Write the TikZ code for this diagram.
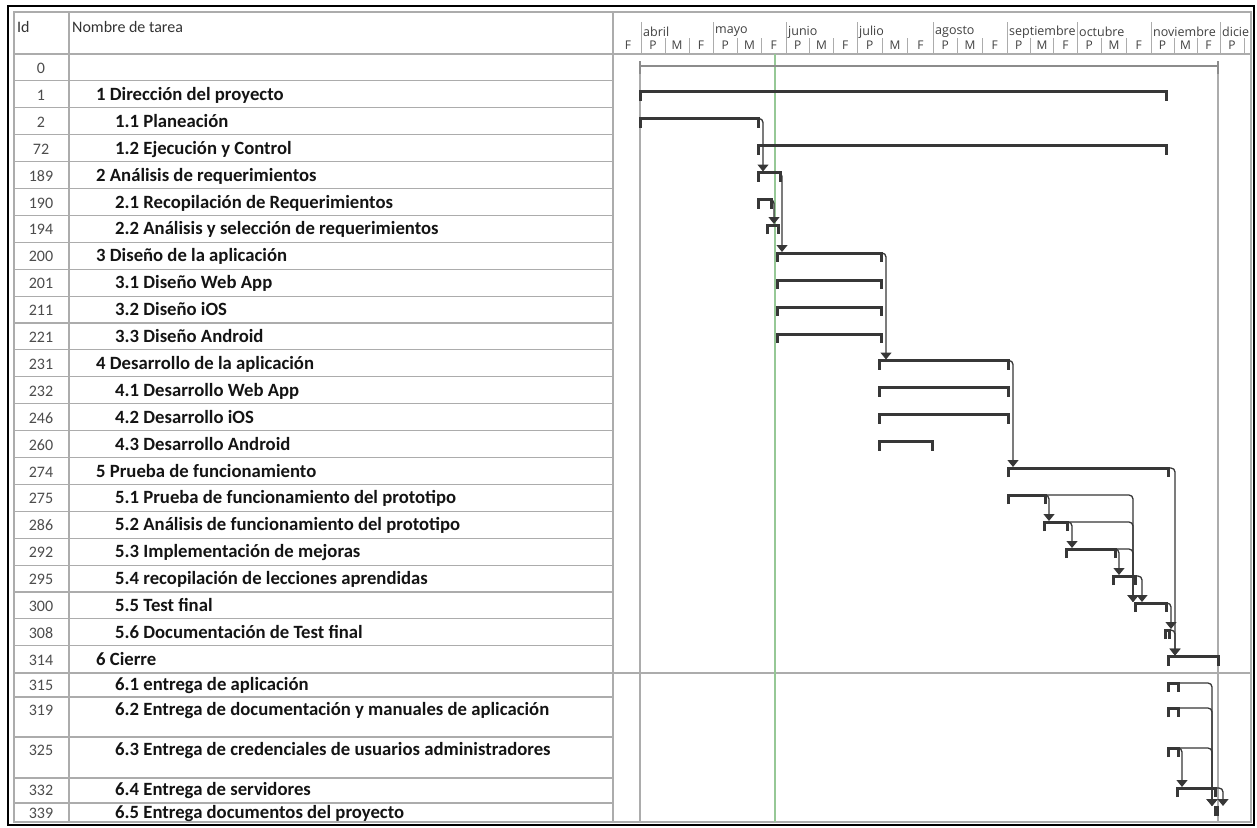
\documentclass[tikz,border=0pt]{standalone}
\usepackage{fontspec}
\setmainfont{Carlito}
\newfontfamily\timefont{Open Sans}
\usepackage{tikz}
\usetikzlibrary{arrows.meta}

\definecolor{barcol}{RGB}{55,55,55}
\definecolor{gridcol}{RGB}{172,172,172}
\definecolor{todaycol}{RGB}{150,200,150}

\tikzstyle{idcell} = [inner sep=0pt, text height=13pt, text depth=4pt, font=\fontsize{16}{16}\selectfont, text=black!70]
\tikzstyle{task} = [anchor=west, inner sep=0pt, text height=13pt, text depth=4pt, font=\fontsize{18.7}{19}\selectfont\bfseries, text=black!92]
\tikzstyle{headtext} = [anchor=west, inner sep=0pt, font=\fontsize{16}{16}\selectfont, text=black!80]
\tikzstyle{month} = [anchor=west, inner sep=0pt, font=\timefont\fontsize{12.5}{13}\selectfont, text=black!75]
\tikzstyle{third} = [inner sep=0pt, font=\timefont\fontsize{12}{13}\selectfont, text=black!75]
\tikzstyle{gridline} = [draw=gridcol, line width=1.1pt]
\tikzstyle{scaleline} = [draw=gridcol, line width=0.9pt]
\tikzstyle{taskbar} = [draw=barcol, line width=3pt, line join=miter]
\tikzstyle{projbar} = [draw=black!45, line width=1.8pt]
\tikzstyle{deplink} = [draw=barcol, line width=1.3pt, rounded corners=4pt, shorten >=1pt, ->, >={Triangle[width=11pt,length=7pt]}]

\begin{document}
\begin{tikzpicture}[x=1pt, y=-1pt, node distance=26.9pt]

\useasboundingbox (0,0) rectangle (1257,827);
\fill[white] (0,0) rectangle (1257,827);

% frame and grid of the table
\draw[line width=1.6pt] (8,6) rectangle (1254,825);
\draw[gridline] (14,12) rectangle (1251,822);
\draw[gridline] (69,12) -- (69,822);
\draw[gridline] (613,12) -- (613,822);
\draw[gridline] (14,54) -- (1251,54);
\draw[gridline, line width=1.6pt] (14,673) -- (1251,673);
\foreach \k in {1,...,22}
    \draw[gridline] (14,54+26.9*\k) -- (613,54+26.9*\k);
\foreach \yy in {697,737,778,803}
    \draw[gridline] (14,\yy) -- (613,\yy);

% header
\node[headtext] (hid) at (17,27) {Id};
\node[headtext] (hname) at (72,27) {Nombre de tarea};

% timescale
\node[third] (fmar) at (628,45) {F};
\foreach \a/\b/\m in {641/713/abril, 713/786/mayo, 786/857/junio, 857/933/julio, 933/1007/agosto, 1007/1077/septiembre, 1077/1151/octubre, 1151/1220/noviembre}{
    \draw[scaleline] (\a,22) -- (\a,54);
    \draw[scaleline] ({\a+(\b-\a)/3},38) -- ({\a+(\b-\a)/3},54);
    \draw[scaleline] ({\a+2*(\b-\a)/3},38) -- ({\a+2*(\b-\a)/3},54);
    \node[month] (m\a) at (\a+2,32) {\m};
    \node[third] (p\a) at ({\a+(\b-\a)/6},45) {P};
    \node[third] (mi\a) at ({\a+(\b-\a)/2},45) {M};
    \node[third] (f\a) at ({\a+5*(\b-\a)/6},45) {F};
}
\draw[scaleline] (1220,22) -- (1220,54);
\draw[scaleline] (1244,38) -- (1244,54);
\node[month] (mdic) at (1222,32) {dicie};
\node[third] (pdic) at (1232,45) {P};

% chart lines
\draw[gridline] (640,61) -- (640,822);
\draw[draw=todaycol, line width=1.2pt] (775,54) -- (775,822);
\draw[gridline] (1218,61) -- (1218,822);

% ids
\node[idcell] (id0) at (41,69) {0};
\node[idcell, below of=id0] (id1) {1};
\node[idcell, below of=id1] (id2) {2};
\node[idcell, below of=id2] (id72) {72};
\node[idcell, below of=id72] (id189) {189};
\node[idcell, below of=id189] (id190) {190};
\node[idcell, below of=id190] (id194) {194};
\node[idcell, below of=id194] (id200) {200};
\node[idcell, below of=id200] (id201) {201};
\node[idcell, below of=id201] (id211) {211};
\node[idcell, below of=id211] (id221) {221};
\node[idcell, below of=id221] (id231) {231};
\node[idcell, below of=id231] (id232) {232};
\node[idcell, below of=id232] (id246) {246};
\node[idcell, below of=id246] (id260) {260};
\node[idcell, below of=id260] (id274) {274};
\node[idcell, below of=id274] (id275) {275};
\node[idcell, below of=id275] (id286) {286};
\node[idcell, below of=id286] (id292) {292};
\node[idcell, below of=id292] (id295) {295};
\node[idcell, below of=id295] (id300) {300};
\node[idcell, below of=id300] (id308) {308};
\node[idcell, below of=id308] (id314) {314};
\node[idcell] (id315) at (41,686) {315};
\node[idcell] (id319) at (41,711) {319};
\node[idcell] (id325) at (41,751) {325};
\node[idcell] (id332) at (41,791) {332};
\node[idcell] (id339) at (41,814) {339};

% task names
\coordinate (lvA) at (96,0);
\coordinate (lvB) at (115,0);
\node[task] (t1) at (id1 -| lvA) {1 Dirección del proyecto};
\node[task] (t2) at (id2 -| lvB) {1.1 Planeación};
\node[task] (t72) at (id72 -| lvB) {1.2 Ejecución y Control};
\node[task] (t189) at (id189 -| lvA) {2 Análisis de requerimientos};
\node[task] (t190) at (id190 -| lvB) {2.1 Recopilación de Requerimientos};
\node[task] (t194) at (id194 -| lvB) {2.2 Análisis y selección de requerimientos};
\node[task] (t200) at (id200 -| lvA) {3 Diseño de la aplicación};
\node[task] (t201) at (id201 -| lvB) {3.1 Diseño Web App};
\node[task] (t211) at (id211 -| lvB) {3.2 Diseño iOS};
\node[task] (t221) at (id221 -| lvB) {3.3 Diseño Android};
\node[task] (t231) at (id231 -| lvA) {4 Desarrollo de la aplicación};
\node[task] (t232) at (id232 -| lvB) {4.1 Desarrollo Web App};
\node[task] (t246) at (id246 -| lvB) {4.2 Desarrollo iOS};
\node[task] (t260) at (id260 -| lvB) {4.3 Desarrollo Android};
\node[task] (t274) at (id274 -| lvA) {5 Prueba de funcionamiento};
\node[task] (t275) at (id275 -| lvB) {5.1 Prueba de funcionamiento del prototipo};
\node[task] (t286) at (id286 -| lvB) {5.2 Análisis de funcionamiento del prototipo};
\node[task] (t292) at (id292 -| lvB) {5.3 Implementación de mejoras};
\node[task] (t295) at (id295 -| lvB) {5.4 recopilación de lecciones aprendidas};
\node[task] (t300) at (id300 -| lvB) {5.5 Test final};
\node[task] (t308) at (id308 -| lvB) {5.6 Documentación de Test final};
\node[task] (t314) at (id314 -| lvA) {6 Cierre};
\node[task] (t315) at (id315 -| lvB) {6.1 entrega de aplicación};
\node[task] (t319) at (id319 -| lvB) {6.2 Entrega de documentación y manuales de aplicación};
\node[task] (t325) at (id325 -| lvB) {6.3 Entrega de credenciales de usuarios administradores};
\node[task] (t332) at (id332 -| lvB) {6.4 Entrega de servidores};
\node[task] (t339) at (id339 -| lvB) {6.5 Entrega documentos del proyecto};

% bars
\coordinate (s0) at (640,66);
\coordinate (e0) at (1218,66);
\draw[projbar] (s0) -- (e0);
\draw[projbar] (640,61) -- (640,74) (1218,61) -- (1218,74);
\foreach \n/\y/\a/\b in {1/91.5/640/1166, 2/118.5/640/758, 72/145.5/758/1166,
    189/172.5/758/780, 190/199.5/758/771, 194/225/767/778,
    200/253/777/881, 201/280/777/881, 211/307/777/881, 221/334/777/881,
    231/360.5/879/1008, 232/387.5/879/1008, 246/414.5/879/1008, 260/441.5/879/932,
    274/468/1008/1168, 275/495/1008/1045, 286/522/1044/1067, 292/549/1066/1115,
    295/576/1113/1135, 300/603/1135/1166, 308/630/1165/1169, 314/656.5/1168/1218,
    315/683/1168/1178, 319/708/1168/1178, 325/748/1168/1178, 332/788/1177/1215,
    339/807/1215/1217}{
    \coordinate (s\n) at (\a,\y);
    \coordinate (e\n) at (\b,\y);
    \draw[taskbar] (\a,\y+9) -- (s\n) -- (e\n) -- (\b,\y+9);
}

% links
\draw[deplink] (e2) -| ([xshift=5pt]s189);
\draw[deplink] (e189) -| ([xshift=5pt]s200);
\draw[deplink] (e190) -| ([xshift=7pt]s194);
\draw[deplink] (e200) -| ([xshift=7pt]s231);
\draw[deplink] (e231) -| ([xshift=5pt]s274);
\draw[deplink] (e274) -| ([xshift=7pt]s314);
\draw[deplink] (e275) -| ([xshift=5pt]s286);
\draw[deplink] (e275) -| ([xshift=-2pt]s300);
\draw[deplink] (e286) -| ([xshift=6pt]s292);
\draw[deplink] (e286) -| ([xshift=-2pt]s300);
\draw[deplink] (e292) -| ([xshift=6pt]s295);
\draw[deplink] (e292) -| ([xshift=-2pt]s300);
\draw[deplink] (e295) -| ([xshift=7pt]s300);
\draw[deplink] (e300) -| ([xshift=6pt]s308);
\draw[deplink] (e308) -| ([xshift=7pt]s314);
\draw[deplink] (e315) -| ([xshift=-3pt]s339);
\draw[deplink] (e319) -| ([xshift=-3pt]s339);
\draw[deplink] (e325) -| ([xshift=-3pt]s339);
\draw[deplink] (e325) -| ([xshift=5pt]s332);
\draw[deplink] (e332) -| ([xshift=8pt]s339);

\end{tikzpicture}
\end{document}
